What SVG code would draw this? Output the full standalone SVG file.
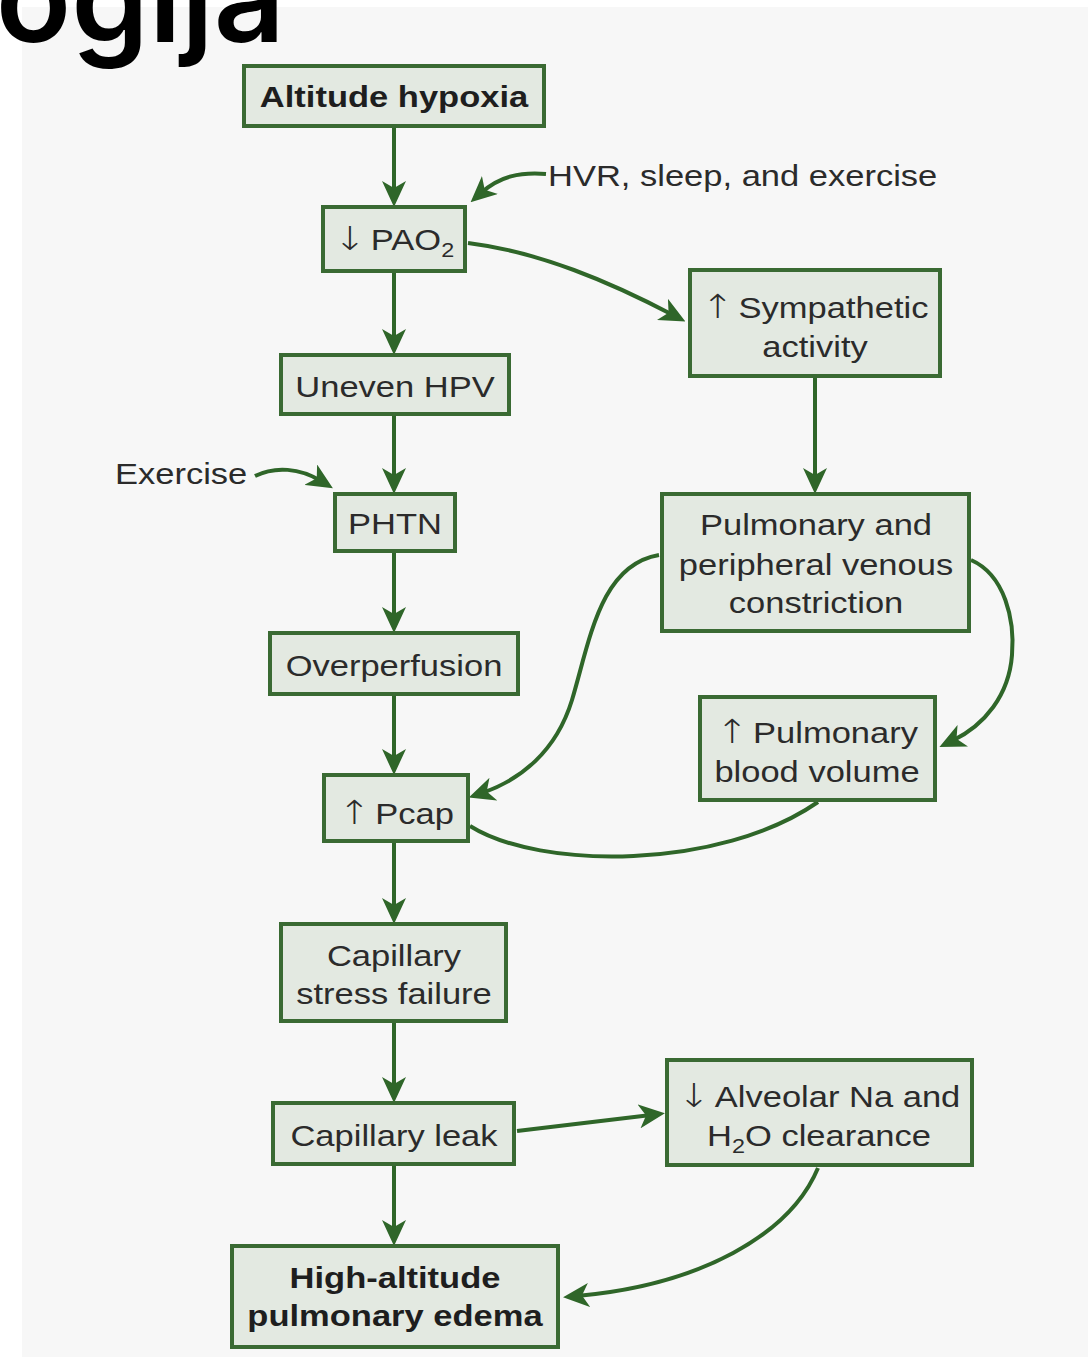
<svg xmlns="http://www.w3.org/2000/svg" width="1088" height="1357" viewBox="0 0 1088 1357">
<defs>
<style>
.box{fill:#e3e9e1;stroke:#3a6a33;stroke-width:4}
.t{font-family:"Liberation Sans",Arial,sans-serif;font-size:29.5px;fill:#2b2b2b;text-anchor:middle}
.b{font-weight:bold;fill:#1e1e1e}
.l{text-anchor:start}
.c{fill:none;stroke:#2f6629;stroke-width:4}
.sub{font-size:20px}
.ar{font-family:"DejaVu Sans",sans-serif;font-size:33px;font-weight:200}
</style>
<marker id="ah" viewBox="0 0 26 24" refX="12" refY="12" markerWidth="26" markerHeight="24" markerUnits="userSpaceOnUse" orient="auto">
<path d="M0,0 L26,12 L0,24 L7,12 Z" fill="#2f6629"/>
</marker>
</defs>
<rect x="0" y="0" width="1088" height="1357" fill="#ffffff"/>
<rect x="22" y="7" width="1066" height="1350" fill="#f7f7f7"/>
<text x="285" y="42" text-anchor="end" font-family="Inter,'DejaVu Sans',sans-serif" font-weight="600" font-size="124" fill="#000">ogija</text>

<g id="connectors">
<path class="c" marker-end="url(#ah)" d="M394,128 V193"/>
<path class="c" marker-end="url(#ah)" d="M394,273 V341"/>
<path class="c" marker-end="url(#ah)" d="M394,416 V480"/>
<path class="c" marker-end="url(#ah)" d="M394,553 V619"/>
<path class="c" marker-end="url(#ah)" d="M394,696 V761"/>
<path class="c" marker-end="url(#ah)" d="M394,843 V910"/>
<path class="c" marker-end="url(#ah)" d="M394,1023 V1089"/>
<path class="c" marker-end="url(#ah)" d="M394,1166 V1232"/>
<path class="c" marker-end="url(#ah)" d="M815,378 V480"/>
<path class="c" marker-end="url(#ah)" d="M546,174 C520,172 500,176 481,193"/>
<path class="c" marker-end="url(#ah)" d="M255,476 C275,466 300,468 321,481"/>
<path class="c" marker-end="url(#ah)" d="M468,243 C540,252 610,282 673,315"/>
<path class="c" marker-end="url(#ah)" d="M659,555 C600,565 590,640 572,700 C556,752 520,780 482,793"/>
<path class="c" marker-end="url(#ah)" d="M971,560 C1005,575 1015,620 1012,655 C1009,695 985,725 952,741"/>
<path class="c" d="M470,826 C540,870 720,870 818,802"/>
<path class="c" marker-end="url(#ah)" d="M517,1131 L651,1115"/>
<path class="c" marker-end="url(#ah)" d="M818,1168 C790,1235 700,1285 577,1296"/>
</g>

<g id="n-altitude"><rect class="box" x="244" y="66" width="300" height="60"/>
<text class="t b" transform="translate(394,107) scale(1.17,1)">Altitude hypoxia</text></g>

<g id="l-hvr"><text class="t l" transform="translate(548,186) scale(1.17,1)">HVR, sleep, and exercise</text></g>

<g id="n-pao2"><rect class="box" x="323" y="207" width="142" height="64"/>
<text class="t" transform="translate(394,250) scale(1.17,1)"><tspan class="ar">↓</tspan><tspan dx="4">PAO</tspan><tspan class="sub" dy="7">2</tspan></text></g>

<g id="n-hpv"><rect class="box" x="281" y="355" width="228" height="59"/>
<text class="t" transform="translate(395,397) scale(1.17,1)">Uneven HPV</text></g>

<g id="l-exercise"><text class="t l" transform="translate(115,484) scale(1.17,1)">Exercise</text></g>

<g id="n-phtn"><rect class="box" x="335" y="494" width="120" height="57"/>
<text class="t" transform="translate(395,534) scale(1.17,1)">PHTN</text></g>

<g id="n-overperfusion"><rect class="box" x="270" y="633" width="248" height="61"/>
<text class="t" transform="translate(394,676) scale(1.17,1)">Overperfusion</text></g>

<g id="n-pcap"><rect class="box" x="324" y="775" width="144" height="66"/>
<text class="t" transform="translate(396,824) scale(1.17,1)"><tspan class="ar">↑</tspan><tspan dx="4">Pcap</tspan></text></g>

<g id="n-stress"><rect class="box" x="281" y="924" width="225" height="97"/>
<text class="t" transform="translate(394,966) scale(1.17,1)"><tspan x="0" y="0">Capillary</tspan><tspan x="0" y="38">stress failure</tspan></text></g>

<g id="n-leak"><rect class="box" x="273" y="1103" width="241" height="61"/>
<text class="t" transform="translate(394,1146) scale(1.17,1)">Capillary leak</text></g>

<g id="n-hape"><rect class="box" x="232" y="1246" width="326" height="101"/>
<text class="t b" transform="translate(395,1288) scale(1.17,1)"><tspan x="0" y="0">High-altitude</tspan><tspan x="0" y="38">pulmonary edema</tspan></text></g>

<g id="n-sympathetic"><rect class="box" x="690" y="270" width="250" height="106"/>
<text class="t" transform="translate(815,318) scale(1.17,1)"><tspan x="0" y="0"><tspan class="ar">↑</tspan><tspan dx="4">Sympathetic</tspan></tspan><tspan x="0" y="39">activity</tspan></text></g>

<g id="n-constriction"><rect class="box" x="662" y="494" width="307" height="137"/>
<text class="t" transform="translate(816,535) scale(1.17,1)"><tspan x="0" y="0">Pulmonary and</tspan><tspan x="0" y="40">peripheral venous</tspan><tspan x="0" y="78">constriction</tspan></text></g>

<g id="n-bloodvolume"><rect class="box" x="700" y="697" width="235" height="103"/>
<text class="t" transform="translate(817,743) scale(1.17,1)"><tspan x="0" y="0"><tspan class="ar">↑</tspan><tspan dx="4">Pulmonary</tspan></tspan><tspan x="0" y="39">blood volume</tspan></text></g>

<g id="n-alveolar"><rect class="box" x="667" y="1060" width="305" height="105"/>
<text class="t" transform="translate(819,1107) scale(1.17,1)"><tspan x="0" y="0"><tspan class="ar">↓</tspan><tspan dx="4">Alveolar Na and</tspan></tspan><tspan x="0" y="39">H<tspan class="sub" dy="7">2</tspan><tspan dy="-7">O clearance</tspan></tspan></text></g>
</svg>
